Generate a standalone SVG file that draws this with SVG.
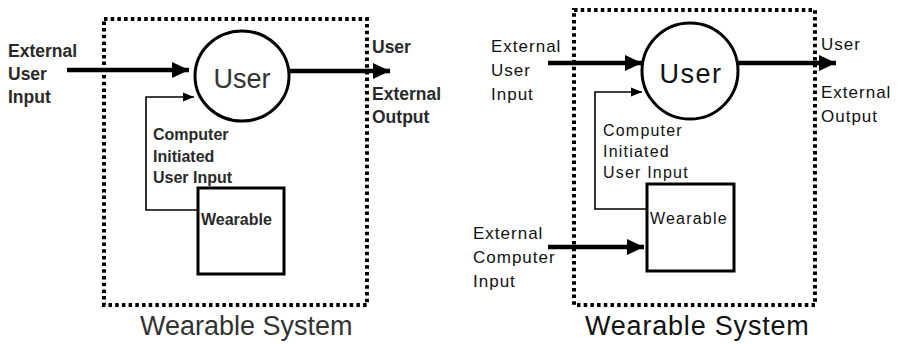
<svg xmlns="http://www.w3.org/2000/svg" width="900" height="344" viewBox="0 0 900 344">
<style>
.bg{fill:#fff}
.sys{fill:none;stroke:#000;stroke-width:4;stroke-dasharray:3.5 3.2}
.node{fill:#fff;stroke:#000;stroke-width:3}
.thick{fill:none;stroke:#000;stroke-width:4.5}
.thin{fill:none;stroke:#000;stroke-width:1.6}
.lt{font-family:"Liberation Sans",Arial,sans-serif;font-weight:bold;font-size:17.5px;fill:#2a2a2a}
.lc{font-family:"Liberation Sans",Arial,sans-serif;font-weight:bold;font-size:16px;fill:#2a2a2a}
.lu{font-family:"Liberation Sans",Arial,sans-serif;font-size:27px;fill:#333}
.rt{font-family:"Liberation Sans",Arial,sans-serif;font-size:17px;letter-spacing:1px;fill:#111}
.rc{font-family:"Liberation Sans",Arial,sans-serif;font-size:16px;letter-spacing:1.2px;fill:#111}
.ru{font-family:"Liberation Sans",Arial,sans-serif;font-size:27px;letter-spacing:1.5px;fill:#111}
.cap{font-family:"Liberation Sans",Arial,sans-serif;font-size:27px;fill:#333}
.capr{font-family:"Liberation Sans",Arial,sans-serif;font-size:27px;letter-spacing:0.8px;fill:#111}
</style>
<defs>
<marker id="big" markerUnits="userSpaceOnUse" markerWidth="18" markerHeight="16" refX="17" refY="8" orient="auto">
<path d="M0,0 L17,8 L0,16 Z" fill="#000"/>
</marker>
<marker id="small" markerUnits="userSpaceOnUse" markerWidth="12" markerHeight="10" refX="11" refY="5" orient="auto">
<path d="M0,0.5 L11,5 L0,9.5 Z" fill="#000"/>
</marker>
</defs>
<rect class="bg" width="900" height="344"/>

<!-- Left panel -->
<g id="left-system">
<rect class="sys" x="104" y="19" width="263" height="286"/>
<text class="cap" x="140" y="335">Wearable System</text>
</g>
<g id="left-user">
<ellipse class="node" cx="242" cy="76" rx="47" ry="45"/>
<text class="lu" x="242" y="88" text-anchor="middle">User</text>
</g>
<g id="left-wearable">
<rect class="node" x="198" y="188" width="86" height="86"/>
<text class="lc" x="201" y="225">Wearable</text>
</g>
<g id="left-labels">
<text class="lt" x="8" y="57">External</text>
<text class="lt" x="8" y="80">User</text>
<text class="lt" x="8" y="103">Input</text>
<text class="lt" x="372" y="53">User</text>
<text class="lt" x="372" y="100">External</text>
<text class="lt" x="372" y="123">Output</text>
<text class="lc" x="153" y="140">Computer</text>
<text class="lc" x="153" y="162">Initiated</text>
<text class="lc" x="153" y="183">User Input</text>
</g>
<g id="left-connectors">
<line class="thick" x1="67" y1="70" x2="189" y2="70" marker-end="url(#big)"/>
<line class="thick" x1="289" y1="71" x2="390" y2="71" marker-end="url(#big)"/>
<path class="thin" d="M198,210 H146 V97 H194" marker-end="url(#small)"/>
</g>

<!-- Right panel -->
<g id="right-system">
<rect class="sys" x="574" y="10" width="241" height="295"/>
<text class="capr" x="585" y="335">Wearable System</text>
</g>
<g id="right-user">
<circle class="node" cx="690" cy="71" r="48"/>
<text class="ru" x="691" y="83" text-anchor="middle">User</text>
</g>
<g id="right-wearable">
<rect class="node" x="647" y="184" width="87" height="87"/>
<text class="rc" x="650" y="224">Wearable</text>
</g>
<g id="right-labels">
<text class="rt" x="491" y="52">External</text>
<text class="rt" x="491" y="76">User</text>
<text class="rt" x="491" y="100">Input</text>
<text class="rt" x="821" y="50">User</text>
<text class="rt" x="821" y="98">External</text>
<text class="rt" x="821" y="122">Output</text>
<text class="rc" x="603" y="136">Computer</text>
<text class="rc" x="603" y="157">Initiated</text>
<text class="rc" x="603" y="178">User Input</text>
<text class="rt" x="473" y="239">External</text>
<text class="rt" x="473" y="263">Computer</text>
<text class="rt" x="473" y="287">Input</text>
</g>
<g id="right-connectors">
<line class="thick" x1="548" y1="63" x2="642" y2="63" marker-end="url(#big)"/>
<line class="thick" x1="738" y1="63" x2="836" y2="63" marker-end="url(#big)"/>
<line class="thick" x1="548" y1="247" x2="644" y2="247" marker-end="url(#big)"/>
<path class="thin" d="M647,209 H595 V92 H642" marker-end="url(#small)"/>
</g>
</svg>
